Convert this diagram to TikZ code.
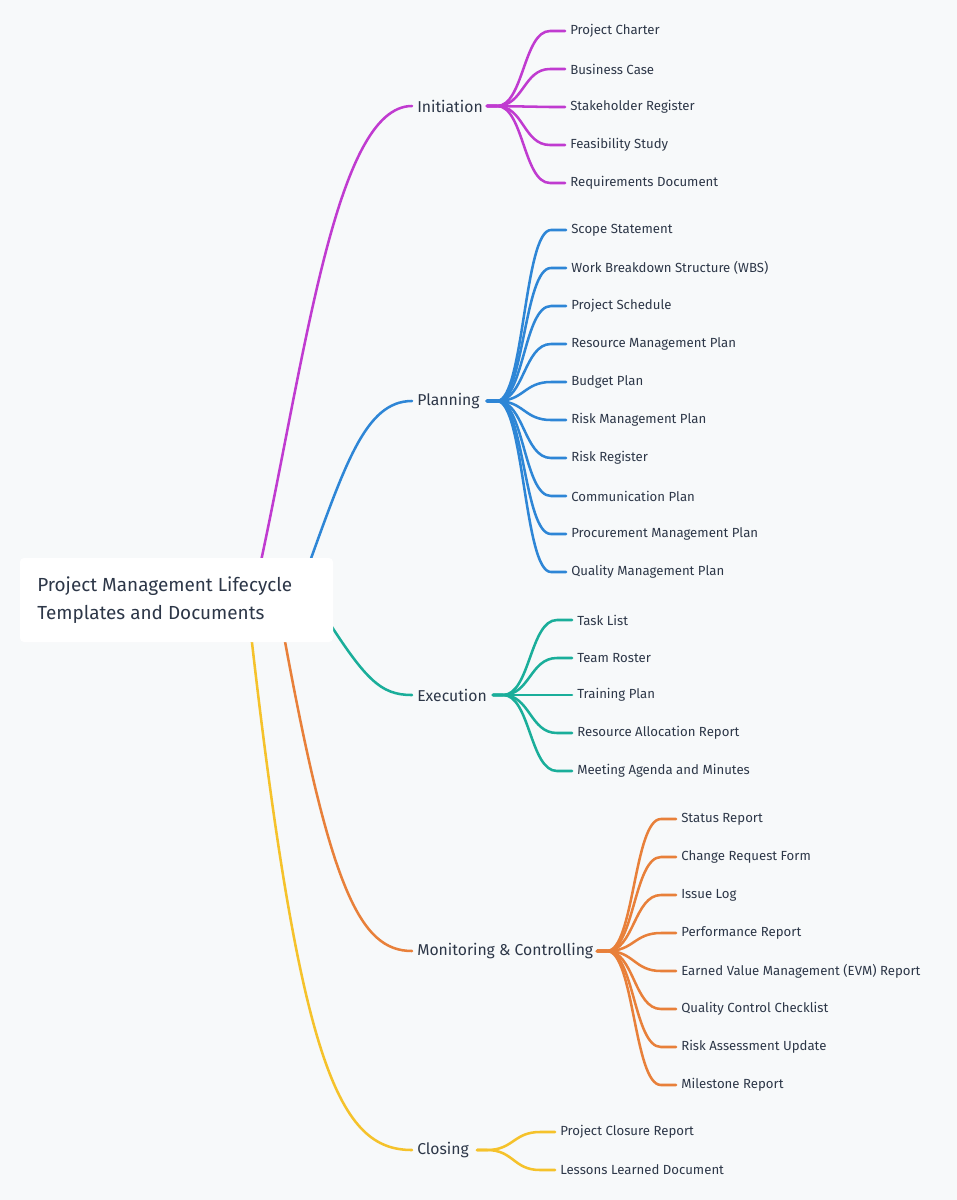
\documentclass[tikz,border=0pt]{standalone}
\usepackage{fontspec}
\setmainfont{Fira Sans}
\definecolor{bg}{HTML}{F7F9FA}
\definecolor{txt}{HTML}{2D3748}
\definecolor{cI}{HTML}{C03BD0}
\definecolor{cP}{HTML}{2E86D6}
\definecolor{cE}{HTML}{1AAE9A}
\definecolor{cM}{HTML}{E8803A}
\definecolor{cC}{HTML}{F5C22B}
\begin{document}
\begin{tikzpicture}[x=0.75pt,y=-0.75pt,
  leaf/.style={anchor=west,inner sep=0pt,text=txt,font=\fontsize{9.9}{11}\selectfont},
  phase/.style={anchor=west,inner sep=0pt,text=txt,font=\fontsize{11.8}{13}\selectfont},
  edge/.style={line width=1.9pt,line cap=round}]
\fill[bg] (0,0) rectangle (957,1200);
\useasboundingbox (0,0) rectangle (957,1200);
\foreach \n/\y/\c/\t/\sx/\sy/\ax/\ay/\bx in {I/106/cI/Initiation/258/575/305/360/335, P/401/cP/Planning/305/575/345/465/365, E/695/cE/Execution/318/605/365/680/380, M/951/cM/Monitoring \& Controlling/282/625/330/890/360, C/1150/cC/Closing/250/625/300/1070/340}{
  \coordinate (R\n) at (\sx,\sy);
  \coordinate (\n) at (412,\y);
  \draw[edge,\c] (R\n) .. controls (\ax,\ay) and (\bx,\y) .. (\n);
  \node[phase] (\n t) at (417,\y) {\t};
}
\newcommand\leaves[6]{% phase, color, start x, phase y, leaf x, list
  \foreach \ly/\lt [count=\k] in {#6}{
    \pgfmathsetmacro\qx{#3+10}
    \pgfmathsetmacro\mx{(#3+10+#5)/2}
    \coordinate (S#1\k) at (#3,#4);
    \coordinate (L#1\k) at (#5,\ly);
    \draw[edge,#2] (S#1\k) -- (\qx,#4) .. controls (\mx,#4) and (\mx,\ly) .. (L#1\k) -- ++(15,0);
    \node[leaf] (N#1\k) at (#5+20,\ly) {\lt};
  }}
\leaves{I}{cI}{487}{106}{550}{31/Project Charter,69/Business Case,107/Stakeholder Register,145/Feasibility Study,183/Requirements Document}
\leaves{P}{cP}{487}{401}{551}{230/Scope Statement,268/Work Breakdown Structure (WBS),306/Project Schedule,344/Resource Management Plan,382/Budget Plan,420/Risk Management Plan,458/Risk Register,496/Communication Plan,534/Procurement Management Plan,572/Quality Management Plan}
\leaves{E}{cE}{493}{695}{557}{620/Task List,658/Team Roster,695/Training Plan,733/Resource Allocation Report,771/Meeting Agenda and Minutes}
\leaves{M}{cM}{597}{951}{661}{819/Status Report,857/Change Request Form,895/Issue Log,933/Performance Report,971/Earned Value Management (EVM) Report,1009/Quality Control Checklist,1047/Risk Assessment Update,1085/Milestone Report}
\leaves{C}{cC}{477}{1150}{540}{1132/Project Closure Report,1170/Lessons Learned Document}
\fill[white,rounded corners=3pt] (20,558) rectangle (333,642);
\node[anchor=west,text=txt,align=left,font=\fontsize{14.2}{21}\selectfont,inner sep=0pt] (root) at (37,600) {Project Management Lifecycle\\Templates and Documents};
\end{tikzpicture}
\end{document}
